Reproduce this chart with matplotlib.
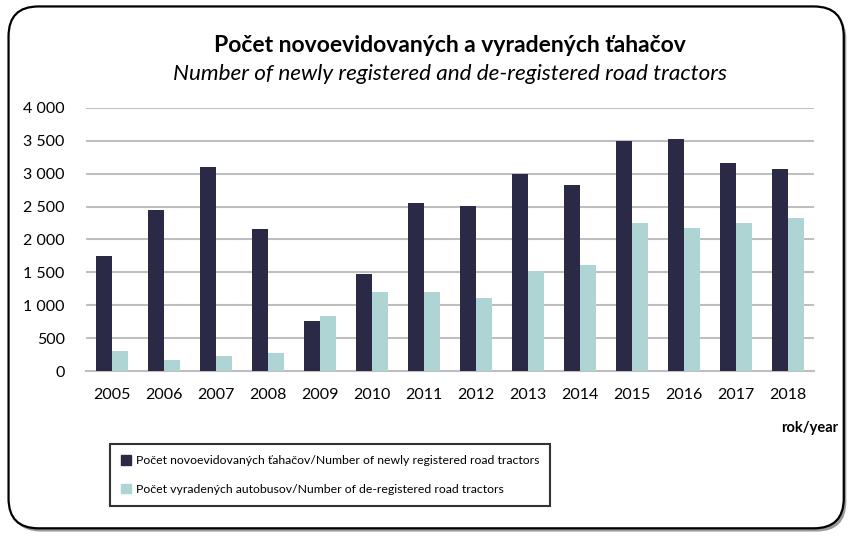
import numpy as np
import matplotlib.pyplot as plt
from matplotlib.patches import FancyBboxPatch, Patch

years = ['2005', '2006', '2007', '2008', '2009', '2010', '2011',
         '2012', '2013', '2014', '2015', '2016', '2017', '2018']
newly = [1750, 2450, 3105, 2160, 755, 1475, 2550,
         2515, 3000, 2825, 3495, 3535, 3170, 3065]
dereg = [300, 165, 225, 280, 835, 1205, 1205,
         1115, 1520, 1610, 2255, 2170, 2255, 2320]
yticks = [0, 500, 1000, 1500, 2000, 2500, 3000, 3500, 4000]
ylabels = ['0', '500', '1 000', '1 500', '2 000', '2 500', '3 000', '3 500', '4 000']

fam = ['Lato', 'DejaVu Sans']
plt.rcParams['font.family'] = fam

dark = '#2b2a46'
light = '#aed4d3'

fig = plt.figure(figsize=(8.54, 5.38), dpi=100)
fig.patch.set_facecolor('white')

# outer rounded frame with a little shadow
shadow = FancyBboxPatch((0.013, 0.012), 0.978, 0.97, boxstyle='round,pad=0,rounding_size=0.035',
                        transform=fig.transFigure, facecolor='#9a9a9a', edgecolor='none',
                        mutation_aspect=854 / 538, zorder=0)
frame = FancyBboxPatch((0.01, 0.018), 0.978, 0.97, boxstyle='round,pad=0,rounding_size=0.035',
                       transform=fig.transFigure, facecolor='white', edgecolor='black',
                       linewidth=1.6, mutation_aspect=854 / 538, zorder=1)
fig.patches.extend([shadow, frame])

ax = fig.add_axes([0.1003, 0.3104, 0.8527, 0.4889])
ax.set_facecolor('none')
ax.set_zorder(2)

x = np.arange(len(years))
w = 0.31
ax.bar(x - w / 2, newly, w, color=dark, edgecolor='none', zorder=3)
ax.bar(x + w / 2, dereg, w, color=light, edgecolor='none', zorder=3)

ax.set_xlim(-0.5, len(years) - 0.5)
ax.set_ylim(0, 4000)
ax.set_yticks(yticks)
ax.set_yticklabels(ylabels)
ax.set_xticks(x)
ax.set_xticklabels(years)
ax.tick_params(length=0, labelsize=11.5, colors='black')
ax.tick_params(axis='y', pad=15)
ax.tick_params(axis='x', pad=12)
ax.grid(axis='y', color='#bfbfbf', linewidth=1.5, zorder=0)
for s in ['top', 'right', 'left']:
    ax.spines[s].set_visible(False)
ax.spines['bottom'].set_color('#bfbfbf')
ax.spines['bottom'].set_linewidth(1.5)

fig.text(0.527, 0.903, 'Počet novoevidovaných a vyradených ťahačov', ha='center', va='baseline',
         fontsize=16.5, fontweight='bold', family=fam)
fig.text(0.527, 0.851, 'Number of newly registered and de-registered road tractors', ha='center',
         va='baseline', fontsize=16.2, style='italic', family=fam)
fig.text(0.982, 0.205, 'rok/year', ha='right', va='center', fontsize=10.5,
         fontweight='bold', family=fam)

handles = [Patch(color=dark), Patch(color=light)]
labels = ['Počet novoevidovaných ťahačov/Number of newly registered road tractors',
          'Počet vyradených autobusov/Number of de-registered road tractors']
leg = fig.legend(handles, labels, loc='center left', bbox_to_anchor=(0.129, 0.117),
                 frameon=True, fancybox=False, fontsize=8.8, handlelength=0.8,
                 handleheight=0.8, handletextpad=0.4, labelspacing=1.45,
                 borderpad=0.9, borderaxespad=0, edgecolor='black')
leg.get_frame().set_linewidth(1.5)
leg.set_zorder(5)

fig.savefig('out.png', dpi=100, facecolor='white')
